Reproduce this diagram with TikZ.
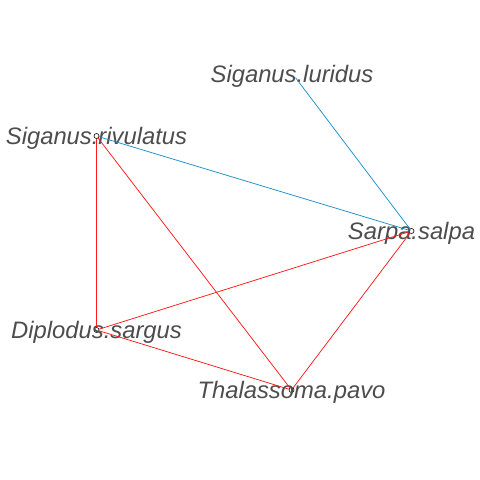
\documentclass[tikz,border=0pt]{standalone}
\usepackage{fontspec}
\setmainfont{Liberation Sans}
\usepackage{tikz}
\definecolor{labelgray}{HTML}{4D4D4D}
\definecolor{edgeblue}{HTML}{1F8FCB}
\definecolor{edgered}{HTML}{FF1A1A}
\tikzset{
  species/.style={circle, draw=black, fill=white, inner sep=0pt, minimum size=5pt, line width=0.6pt},
  tag/.style={text=labelgray, font=\fontsize{23.8}{26}\selectfont\itshape, inner sep=0pt, yshift=-2pt},
  posedge/.style={edgeblue, line width=0.75pt},
  negedge/.style={edgered, line width=0.75pt}
}

\begin{document}
\begin{tikzpicture}[x=1pt, y=-1pt]
        \fill[white] (0,0) rectangle (480,480);
        \useasboundingbox (0,0) rectangle (480,480);

        % Nodes
        \node[species, draw=none, fill=none, minimum size=1pt] (lur) at (295, 77) {};
        \node[species] (riv) at (96.5, 136) {};
        \node[species] (sal) at (411.5, 231) {};
        \node[species] (dip) at (96.5, 330) {};
        \node[species] (tha) at (291.5, 390) {};

        % Labels
        \node[tag] (lurlab) at (292, 74) {Siganus.luridus};
        \node[tag] (rivlab) at (riv) {Siganus.rivulatus};
        \node[tag] (sallab) at (sal) {Sarpa.salpa};
        \node[tag] (diplab) at (dip) {Diplodus.sargus};
        \node[tag] (thalab) at (tha) {Thalassoma.pavo};

        % Edges
        \draw[posedge] (lur) -- (sal);
        \draw[posedge] (riv) -- (sal);
        \draw[negedge] (riv) -- (dip);
        \draw[negedge] (riv) -- (tha);
        \draw[negedge] (dip) -- (sal);
        \draw[negedge] (dip) -- (tha);
        \draw[negedge] (tha) -- (sal);
\end{tikzpicture}
\end{document}
